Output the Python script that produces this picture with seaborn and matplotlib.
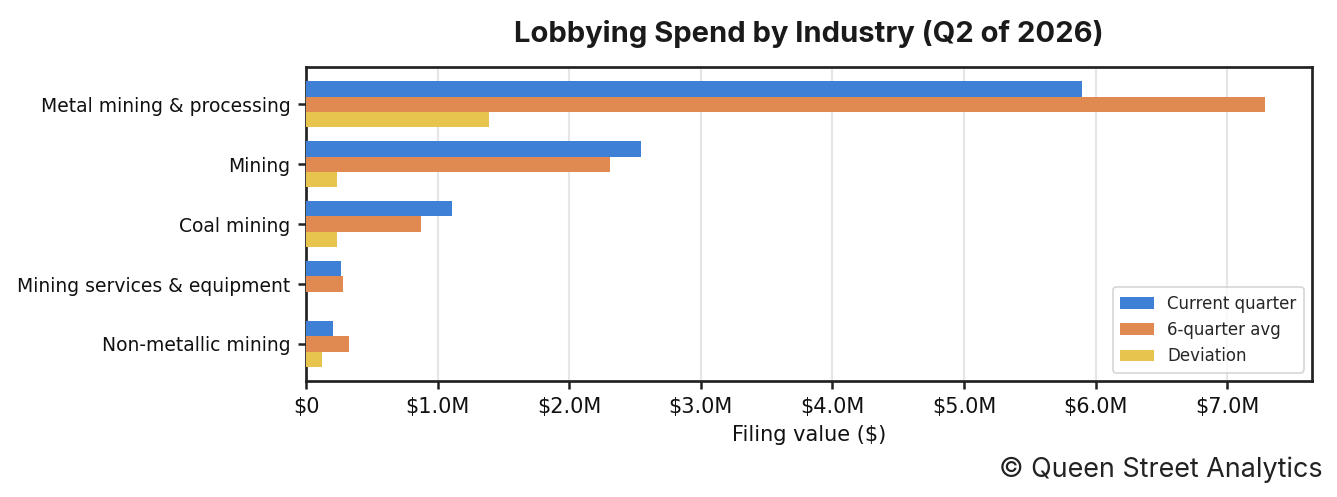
import numpy as np
import pandas as pd
import matplotlib
matplotlib.use("Agg")
import matplotlib.pyplot as plt
import seaborn as sns
from matplotlib.ticker import FuncFormatter

sns.set_theme(style="ticks", context="paper")
plt.rcParams['font.family'] = ['DejaVu Sans']
plt.rcParams['font.sans-serif'] = ['DejaVu Sans']

industries = ['Metal mining & processing', 'Mining', 'Coal mining',
              'Mining services & equipment', 'Non-metallic mining']
current_quarter = [5.90, 2.546, 1.109, 0.266, 0.205]
six_quarter_avg = [7.29, 2.31, 0.874, 0.281, 0.327]
deviation = [1.39, 0.236, 0.235, 0.0, 0.122]
series_names = ['Current quarter', '6-quarter avg', 'Deviation']
colors = ['#3D80D6', '#E08950', '#E6C44D']

df = pd.DataFrame({
    'industry': industries * 3,
    'series': np.repeat(series_names, len(industries)),
    'value': np.concatenate([current_quarter, six_quarter_avg, deviation]) * 1e6,
})

fig = plt.figure(figsize=(1337 / 150, 497 / 150), dpi=150)
ax = fig.add_axes([0.2289, 0.2334, 0.9813 - 0.2289, 0.8646 - 0.2334])

sns.barplot(data=df, y='industry', x='value', hue='series', order=industries,
            hue_order=series_names, palette=colors, width=0.77, saturation=1,
            orient='h', linewidth=0, ax=ax, zorder=3)

ax.set_ylim(4.62, -0.62)
ax.set_xlim(0, 7.645e6)
ax.set_xticks(np.arange(0, 8e6, 1e6))
ax.xaxis.set_major_formatter(FuncFormatter(lambda v, p: '$0' if v == 0 else f'${v/1e6:.1f}M'))
ax.grid(axis='x', color='#e6e6e6', linewidth=1, zorder=0)
ax.set_axisbelow(True)
ax.set_ylabel('')
ax.set_xlabel('Filing value ($)', fontsize=10, color='#111111', labelpad=4)
ax.tick_params(axis='both', colors='#222222', labelcolor='#111111',
               length=4, width=1.2)
ax.tick_params(axis='x', labelsize=10)
ax.tick_params(axis='y', labelsize=9)
for s in ax.spines.values():
    s.set_color('#222222')
    s.set_linewidth(1.3)

leg = ax.legend(loc='lower right', fontsize=8, frameon=True, fancybox=True,
                title=None, borderpad=0.45, handlelength=2.0)
leg.get_frame().set_edgecolor('#cccccc')

fig.text(0.6047, 0.932, 'Lobbying Spend by Industry (Q2 of 2026)', ha='center',
         va='center', fontsize=14, fontweight='bold', family=['Inter', 'DejaVu Sans'],
         color='#1a1a1a')
fig.text(0.989, 0.04, '\u00a9 Queen Street Analytics', ha='right', va='baseline',
         fontsize=12.9, family=['Inter', 'DejaVu Sans'], color='#222222')

fig.savefig('out.png', dpi=150)
